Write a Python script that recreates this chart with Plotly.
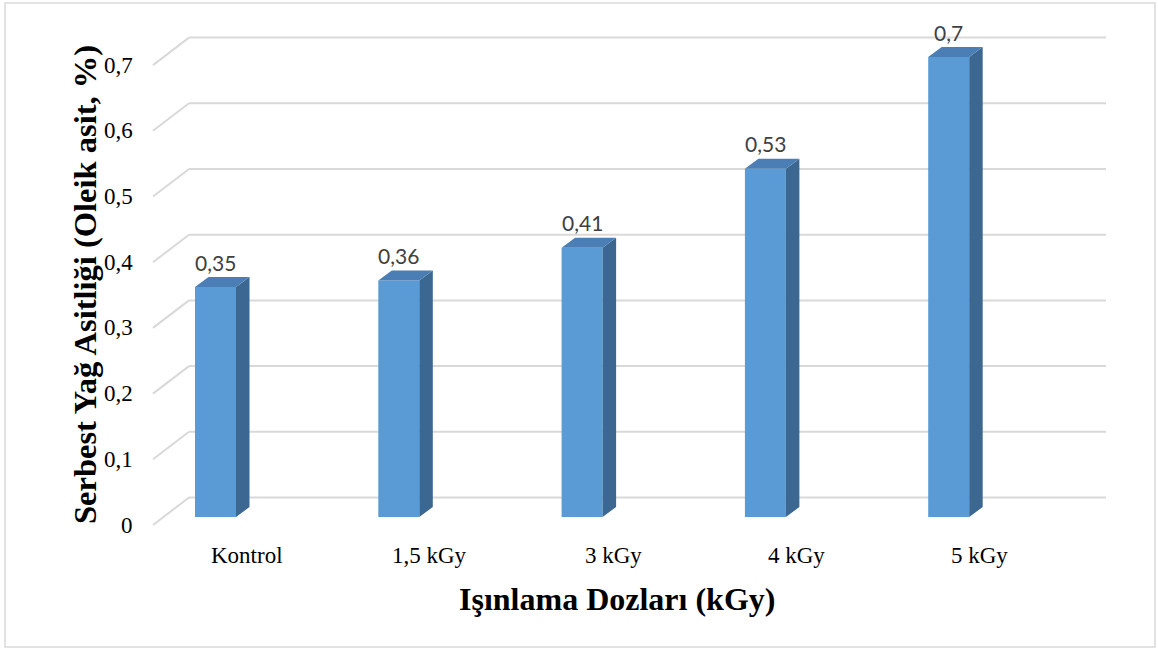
import plotly.graph_objects as go

# ---- data -------------------------------------------------------------
CATEGORIES = ["Kontrol", "1,5 kGy", "3 kGy", "4 kGy", "5 kGy"]
VALUES = [0.35, 0.36, 0.41, 0.53, 0.70]
TICK_VALUES = [0, 0.1, 0.2, 0.3, 0.4, 0.5, 0.6, 0.7]
TICK_LABELS = ["0", "0,1", "0,2", "0,3", "0,4", "0,5", "0,6", "0,7"]

Y_TITLE = "Serbest Yağ Asitliği (Oleik asit, %)"
X_TITLE = "Işınlama Dozları (kGy)"

# ---- pseudo-3D frame geometry (pixels) --------------------------------
W, H = 1158, 650
BASE_PX = 517      # bottom edge of the bar front faces
UNIT_PX = 657      # pixels per 1.0 of value
FIRST_PX = 215.5   # centre of the first bar front face
STEP_PX = 183.3    # distance between categories


def dx(px):
    return px / STEP_PX


def dy(px):
    return px / UNIT_PX


y_lo = -(H - BASE_PX) / UNIT_PX
x_lo = -FIRST_PX / STEP_PX
Y_RANGE = [y_lo, y_lo + H / UNIT_PX]
X_RANGE = [x_lo, x_lo + W / STEP_PX]

BAR_W = dx(41)
DEPTH_X, DEPTH_Y = dx(13.5), dy(10)
FRONT_X, FRONT_DY = dx(153 - FIRST_PX), dy(-8)
BACK_X0, BACK_X1, BACK_DY = dx(189 - FIRST_PX), dx(1106 - FIRST_PX), dy(19.5)

FRONT_COLOR = "#5B9BD5"
TOP_COLOR = "#4A7EB4"
SIDE_COLOR = "#3B6791"
GRID_COLOR = "#D9D9D9"
SERIF = "Liberation Serif, Times New Roman, serif"

fig = go.Figure()

# front faces of the bars
xs = list(range(len(CATEGORIES)))
fig.add_trace(go.Bar(
    x=xs, y=VALUES, width=BAR_W,
    marker=dict(color=FRONT_COLOR, line=dict(width=0)),
    hoverinfo="skip", showlegend=False,
))

# side and top faces
for i, v in enumerate(VALUES):
    r = i + BAR_W / 2
    l = i - BAR_W / 2
    fig.add_trace(go.Scatter(
        x=[r, r + DEPTH_X, r + DEPTH_X, r, r],
        y=[0, DEPTH_Y, v + DEPTH_Y, v, 0],
        mode="lines", fill="toself", fillcolor=SIDE_COLOR,
        line=dict(width=0, color=SIDE_COLOR),
        hoverinfo="skip", showlegend=False,
    ))
    fig.add_trace(go.Scatter(
        x=[l, r, r + DEPTH_X, l + DEPTH_X, l],
        y=[v, v, v + DEPTH_Y, v + DEPTH_Y, v],
        mode="lines", fill="toself", fillcolor=TOP_COLOR,
        line=dict(width=0, color=TOP_COLOR),
        hoverinfo="skip", showlegend=False,
    ))

shapes = []
annotations = []

# back-wall gridlines with the receding diagonals on the left wall
for t, lab in zip(TICK_VALUES, TICK_LABELS):
    shapes.append(dict(type="line", xref="x", yref="y", layer="below",
                       x0=BACK_X0, x1=BACK_X1, y0=t + BACK_DY, y1=t + BACK_DY,
                       line=dict(color=GRID_COLOR, width=2)))
    shapes.append(dict(type="line", xref="x", yref="y", layer="below",
                       x0=FRONT_X, x1=BACK_X0, y0=t + FRONT_DY, y1=t + BACK_DY,
                       line=dict(color=GRID_COLOR, width=2)))
    annotations.append(dict(xref="x", yref="y", x=FRONT_X - dx(18), y=t + FRONT_DY,
                            text=lab, showarrow=False, xanchor="right", yanchor="middle",
                            font=dict(family=SERIF, size=23, color="#000000")))

# value labels above bars
for i, v in enumerate(VALUES):
    annotations.append(dict(xref="x", yref="y", x=i, y=v + dy(25),
                            text=f"{v:g}".replace(".", ","), showarrow=False,
                            xanchor="center", yanchor="middle",
                            font=dict(family="Lato, Open Sans, sans-serif", size=21,
                                      color="#404040")))

# category labels
for i, c in enumerate(CATEGORIES):
    annotations.append(dict(xref="x", yref="y", x=i + dx(31), y=-dy(38),
                            text=c, showarrow=False, xanchor="center", yanchor="middle",
                            font=dict(family=SERIF, size=23, color="#000000")))

# axis titles
annotations.append(dict(xref="paper", yref="paper", x=617 / W, y=1 - 599 / H,
                        text=f"<b>{X_TITLE}</b>", showarrow=False,
                        xanchor="center", yanchor="middle",
                        font=dict(family=SERIF, size=32, color="#000000")))
annotations.append(dict(xref="paper", yref="paper", x=85 / W, y=1 - 285 / H,
                        text=f"<b>{Y_TITLE}</b>", showarrow=False, textangle=-90,
                        xanchor="center", yanchor="middle",
                        font=dict(family=SERIF, size=32.5, color="#000000")))

# chart border
shapes.append(dict(type="rect", xref="paper", yref="paper",
                   x0=5 / W, x1=1155 / W, y0=1 - 647 / H, y1=1 - 3 / H,
                   line=dict(color=GRID_COLOR, width=1.5), layer="below"))

fig.update_layout(
    width=W, height=H,
    margin=dict(l=0, r=0, t=0, b=0),
    paper_bgcolor="white", plot_bgcolor="white",
    xaxis=dict(range=X_RANGE, visible=False, fixedrange=True),
    yaxis=dict(range=Y_RANGE, visible=False, fixedrange=True),
    shapes=shapes, annotations=annotations,
    showlegend=False,
)

fig.write_html("out.html")
